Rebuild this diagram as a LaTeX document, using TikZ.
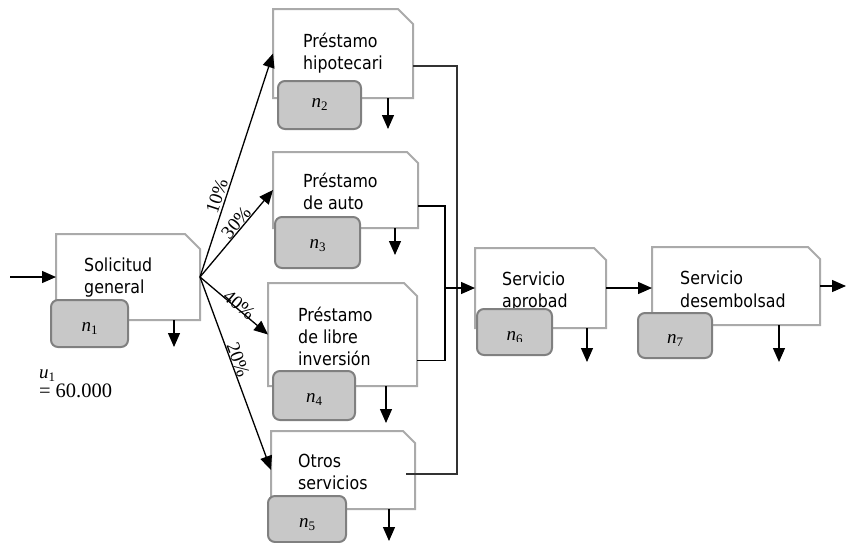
\documentclass[tikz,border=0pt]{standalone}
\usepackage{fontspec}
\setmainfont{DejaVu Sans}[FakeStretch=0.88]
\newfontfamily\lserif{Liberation Serif}
\usetikzlibrary{arrows.meta}
\definecolor{boxgray}{RGB}{170,170,170}
\definecolor{sbfill}{RGB}{200,200,200}
\definecolor{sbdraw}{RGB}{128,128,128}
\newcommand\chamf[2]{\draw[bigbox] (#1.south west) -- (#1.north west) -- ([xshift=-#2pt]#1.north east) -- ([yshift=-#2pt]#1.north east) -- (#1.south east) -- cycle;}
\newcommand\itsub[2]{{\itshape #1}\raisebox{-3.5pt}{\fontsize{13}{13}\selectfont #2}}
\begin{document}
\begin{tikzpicture}[x=1pt,y=-1pt,
  bx/.style={draw=none, inner sep=0pt, outer sep=0pt},
  bigbox/.style={draw=boxgray, line width=2pt, fill=white, line join=miter},
  smallbox/.style={draw=sbdraw, fill=sbfill, line width=2pt, rounded corners=7pt, inner sep=0pt, outer sep=0pt},
  txt/.style={anchor=base west, inner sep=0pt, font=\fontsize{18}{22}\selectfont},
  nlab/.style={anchor=base, inner sep=0pt, font=\lserif\fontsize{19}{22}\selectfont},
  ulab/.style={anchor=base west, inner sep=0pt, font=\lserif\fontsize{19}{22}\selectfont},
  vlab/.style={anchor=base west, inner sep=0pt, font=\lserif\fontsize{20.5}{24}\selectfont},
  arr/.style={-{Triangle[length=14pt,width=12pt]}, line width=1.3pt},
  conn/.style={line width=1.3pt},
  pct/.style={sloped, anchor=south, inner xsep=0pt, font=\lserif\fontsize{19}{22}\selectfont}]
\useasboundingbox (0,0) rectangle (846,542);

% big boxes (frames)
\node[bx, minimum width=144pt, minimum height=86pt] (b1) at (128,277) {};
\node[bx, minimum width=140pt, minimum height=89pt] (b2) at (343,53.5) {};
\node[bx, minimum width=145pt, minimum height=76pt] (b3) at (345.5,190) {};
\node[bx, minimum width=149pt, minimum height=103pt] (b4) at (342.5,334.5) {};
\node[bx, minimum width=144pt, minimum height=78pt] (b5) at (343,470) {};
\node[bx, minimum width=131pt, minimum height=80pt] (b6) at (540.5,288) {};
\node[bx, minimum width=168pt, minimum height=78pt] (b7) at (736,286) {};
\chamf{b1}{15}
\chamf{b2}{15}
\chamf{b3}{11}
\chamf{b4}{13}
\chamf{b5}{12}
\chamf{b6}{12}
\chamf{b7}{12}

% texts
\node[txt] (t1a) at (84,271) {Solicitud};
\node[txt] (t1b) at (84,293) {general};
\node[txt] (t2a) at (303,47) {Préstamo};
\node[txt] (t2b) at (303,69) {hipotecari};
\node[txt] (t3a) at (303,187) {Préstamo};
\node[txt] (t3b) at (303,209) {de auto};
\node[txt] (t4a) at (298,321) {Préstamo};
\node[txt] (t4b) at (298,343) {de libre};
\node[txt] (t4c) at (298,365) {inversión};
\node[txt] (t5a) at (298,467) {Otros};
\node[txt] (t5b) at (298,489) {servicios};
\node[txt] (t6a) at (502,285) {Servicio};
\node[txt] (t6b) at (502,307) {aprobad};
\node[txt] (t7a) at (680,284) {Servicio};
\node[txt] (t7b) at (680,307) {desembolsad};

% small boxes
\node[smallbox, minimum width=77pt, minimum height=47pt] (s1) at (89.5,323.5) {};
\node[smallbox, minimum width=83pt, minimum height=48pt] (s2) at (319.5,105) {};
\node[smallbox, minimum width=85pt, minimum height=51pt] (s3) at (317.5,242.5) {};
\node[smallbox, minimum width=82pt, minimum height=49pt] (s4) at (314,395.5) {};
\node[smallbox, minimum width=78pt, minimum height=46pt] (s5) at (307,519) {};
\node[smallbox, minimum width=75pt, minimum height=46pt] (s6) at (514.5,332) {};
\node[smallbox, minimum width=74pt, minimum height=45pt] (s7) at (675,335.5) {};
\node[nlab] (n1) at (89.5,331) {\itsub{n}{1}};
\node[nlab] (n2) at (319.5,107) {\itsub{n}{2}};
\node[nlab] (n3) at (317.5,248) {\itsub{n}{3}};
\node[nlab] (n4) at (314,402) {\itsub{n}{4}};
\node[nlab] (n5) at (307,527) {\itsub{n}{5}};
\begin{scope}
  \clip (470,300) rectangle (560,341);
  \node[nlab] (n6) at (514.5,340) {\itsub{n}{6}};
\end{scope}
\node[nlab] (n7) at (675,343) {\itsub{n}{7}};

% u1
\node[ulab] (u1) at (39,378) {\itsub{u}{1}};
\node[vlab] (u1v) at (39,397) {=\hspace{5pt}60.000};

% coordinates
\coordinate (in) at (10,277);
\coordinate (out) at (846,286);
\coordinate (busA) at (457,474);
\coordinate (busB) at (445,360.5);

% input
\draw[arr] (in) -- (b1.west);

% fan-out
\draw[arr] (b1.east) -- node[pct, pos=0.35, inner ysep=2pt] (p10) {10\%} (b2.west);
\draw[arr] (b1.east) -- node[pct, pos=0.57, inner ysep=0pt] (p30) {30\%} (b3.west);
\draw[arr] (b1.east) -- node[pct, pos=0.536, inner ysep=-3pt] (p40) {40\%} (b4.west);
\draw[arr] (b1.east) -- node[pct, pos=0.443, inner ysep=0pt] (p20) {20\%} (b5.west);

% collectors
\draw[conn, draw=black!80, line width=1.5pt] ([yshift=-12.5pt]b2.east) -| (busA) -- ([shift={(-9pt,-4pt)}]b5.east);
\draw[conn] ([yshift=-16pt]b3.east) -| (busB) -- ([yshift=-26pt]b4.east);
\draw[arr] (busB |- b6.west) -- (b6.west);
\draw[arr] (b6.east) -- (b6.east -| b7.west);
\draw[arr] (b7.east) -- (out);

% down outputs
\draw[arr] ([xshift=46pt]b1.south) -- ++(0,27);
\draw[arr] ([xshift=45pt]b2.south) -- ++(0,31);
\draw[arr] ([xshift=49.5pt]b3.south) -- ++(0,27);
\draw[arr] ([xshift=43.5pt]b4.south) -- ++(0,37);
\draw[arr] ([xshift=46pt]b5.south) -- ++(0,32);
\draw[arr] ([xshift=46.5pt]b6.south) -- ++(0,34);
\draw[arr] ([xshift=43pt]b7.south) -- ++(0,37);
\end{tikzpicture}
\end{document}
